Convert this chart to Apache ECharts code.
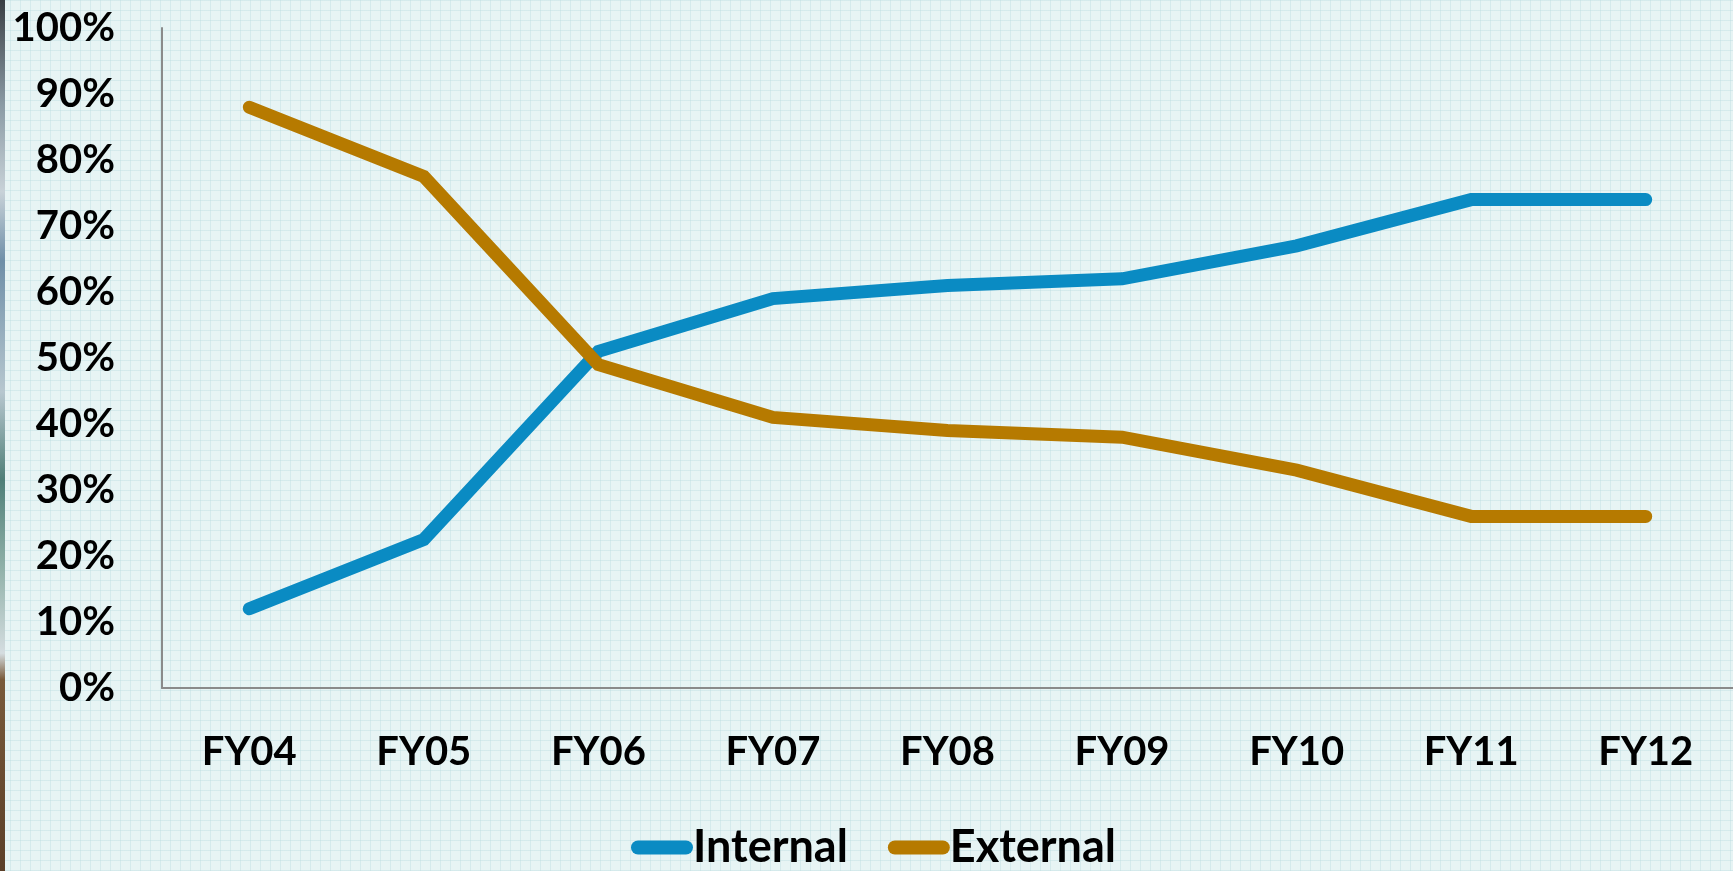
<!DOCTYPE html>
<html>
<head>
<meta charset="utf-8">
<script src="https://cdn.jsdelivr.net/npm/echarts@6/dist/echarts.min.js"></script>
<style>
  html, body { margin: 0; padding: 0; }
  #wrap {
    position: relative;
    width: 1733px; height: 871px;
    background-color: #e7f4f4;
    background-image:
      linear-gradient(to right, rgba(190, 222, 226, 0.45) 1px, transparent 1px),
      linear-gradient(to bottom, rgba(190, 222, 226, 0.45) 1px, transparent 1px);
    background-size: 10px 10px;
  }
  #strip {
    position: absolute; left: 0; top: 0; width: 5px; height: 871px;
    background: linear-gradient(to bottom, #3a3f44 0%, #8a9aa4 12%, #c8d2d8 22%, #6f8fa8 30%, #b7c7cf 45%, #4f7f78 55%, #8fb0a8 65%, #d5dde0 75%, #7a5a3a 78%, #5b3f28 100%);
  }
  #chart { position: absolute; left: 0; top: 0; width: 1733px; height: 871px; }
</style>
</head>
<body>
<div id="wrap">
  <div id="strip"></div>
  <div id="chart"></div>
</div>
<script>
// 年度
var years = ['FY04', 'FY05', 'FY06', 'FY07', 'FY08', 'FY09', 'FY10', 'FY11', 'FY12'];
// 内部 / 外部 占比 (%)
var internalShare = [12, 22.5, 51, 59, 61, 62, 67, 74, 74];
var externalShare = [88, 77.5, 49, 41, 39, 38, 33, 26, 26];
var yTicks = [0, 10, 20, 30, 40, 50, 60, 70, 80, 90, 100];

var blue = '#0a8bc3';
var gold = '#b67a00';
var capsule = 'path://M7,0 L55,0 A7,7 0 0 1 55,14 L7,14 A7,7 0 0 1 7,0 Z';

var myChart = echarts.init(document.getElementById('chart'));
var labelFont = { fontFamily: 'Lato', fontWeight: 'bold', fontSize: 40, color: '#000' };

var options = {
    backgroundColor: 'transparent',
    animation: false,
    grid: { left: 162, right: 0, top: 28, bottom: 183, containLabel: false },
    legend: {
        top: 820,
        left: 626,
        itemWidth: 62,
        itemHeight: 14,
        itemGap: 40,
        textStyle: { fontFamily: 'Lato', fontWeight: 'bold', fontSize: 45, color: '#000', padding: [0, 0, 0, -5] },
        data: [
            { name: 'Internal', icon: capsule, itemStyle: { color: blue } },
            { name: 'External', icon: capsule, itemStyle: { color: gold } }
        ]
    },
    xAxis: {
        type: 'category',
        data: years,
        boundaryGap: true,
        axisLine: { show: true, lineStyle: { color: '#8a8a8a', width: 2 } },
        axisTick: { show: false },
        axisLabel: Object.assign({ margin: 44 }, labelFont)
    },
    yAxis: {
        type: 'value',
        min: yTicks[0],
        max: yTicks[yTicks.length - 1],
        interval: 10,
        axisLine: { show: true, lineStyle: { color: '#8a8a8a', width: 2 } },
        axisTick: { show: false },
        splitLine: { show: false },
        axisLabel: Object.assign({ margin: 47, formatter: '{value}%' }, labelFont)
    },
    series: [
        {
            name: 'Internal',
            type: 'line',
            data: internalShare,
            color: blue,
            showSymbol: false,
            symbol: 'none',
            lineStyle: { width: 13, color: blue, cap: 'round', join: 'miter' }
        },
        {
            name: 'External',
            type: 'line',
            data: externalShare,
            color: gold,
            showSymbol: false,
            symbol: 'none',
            lineStyle: { width: 13, color: gold, cap: 'round', join: 'miter' }
        }
    ]
};
myChart.setOption(options);
</script>
</body>
</html>
